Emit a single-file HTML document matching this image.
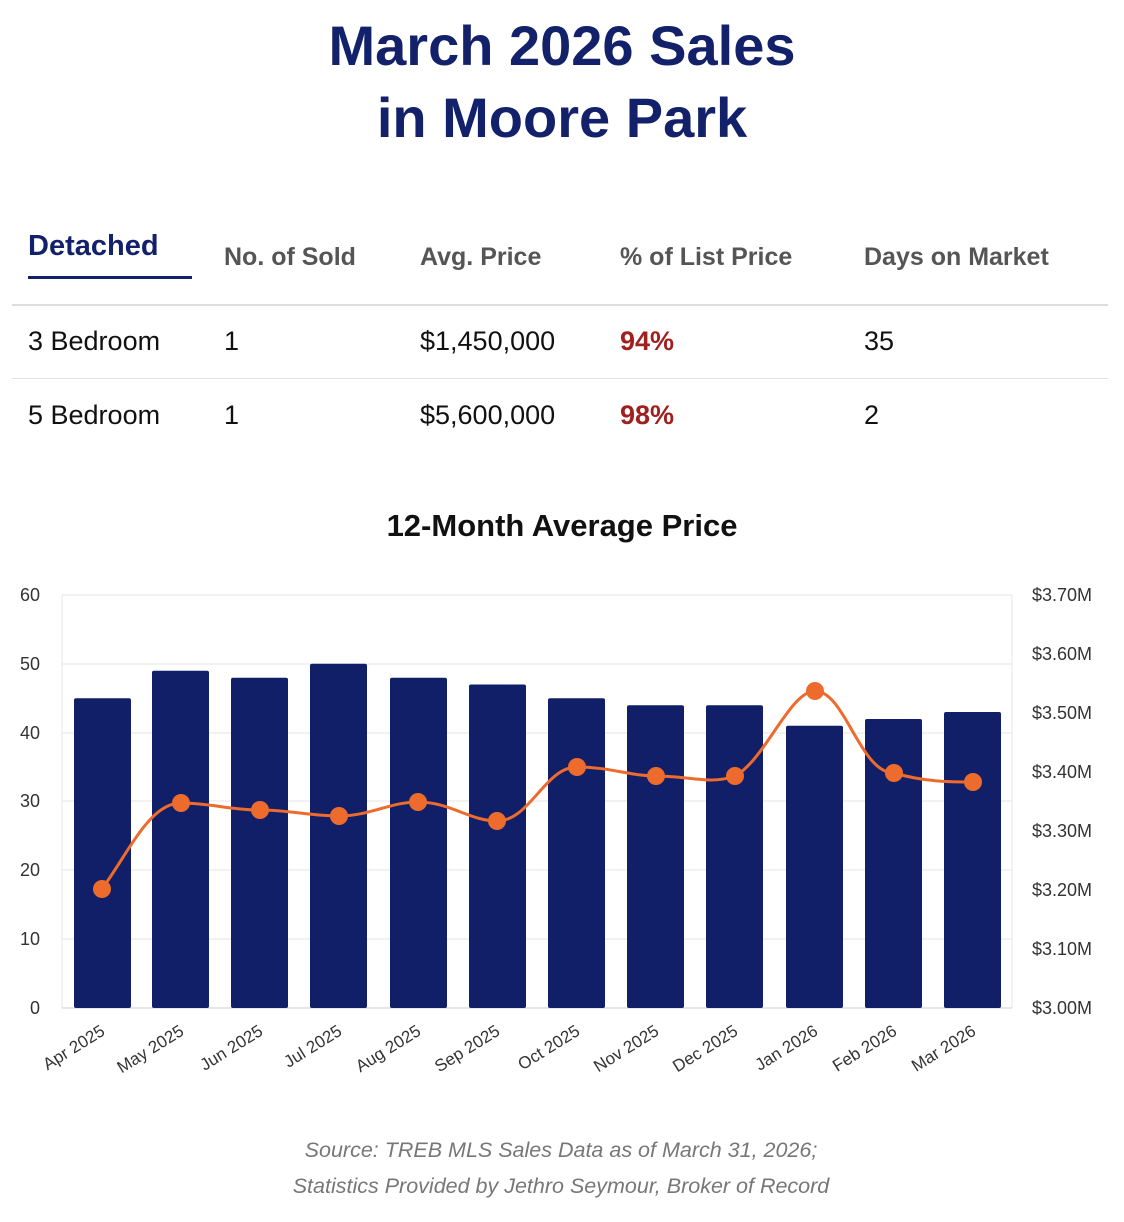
<!DOCTYPE html>
<html><head><meta charset="utf-8"><style>
body{margin:0;width:1124px;height:1222px;background:#fff;font-family:"Liberation Sans",Arial,sans-serif;position:relative;overflow:hidden}
.t{position:absolute;white-space:nowrap}
h1{position:absolute;top:10px;left:0;width:1124px;margin:0;text-align:center;font-size:56px;line-height:72px;color:#13216a;font-weight:bold}
.hd{font-size:25px;font-weight:bold;color:#555;top:243px}
.c{font-size:27px;color:#111}
.r{color:#a0201f;font-weight:bold}
</style></head><body>
<h1>March 2026 Sales<br>in Moore Park</h1>
<div class="t" style="left:28px;top:230px;font-size:29px;font-weight:bold;color:#13216a">Detached</div>
<div style="position:absolute;left:28px;top:276px;width:164px;height:3px;background:#13216a"></div>
<div class="t hd" style="left:224px">No. of Sold</div>
<div class="t hd" style="left:420px">Avg. Price</div>
<div class="t hd" style="left:620px">% of List Price</div>
<div class="t hd" style="left:864px">Days on Market</div>
<div style="position:absolute;left:12px;top:304px;width:1096px;height:2px;background:#ddd"></div>
<div style="position:absolute;left:12px;top:378px;width:1096px;height:1px;background:#e3e3e3"></div>
<div class="t c" style="left:28px;top:326px">3 Bedroom</div><div class="t c" style="left:224px;top:326px">1</div><div class="t c" style="left:420px;top:326px">$1,450,000</div><div class="t c r" style="left:620px;top:326px">94%</div><div class="t c" style="left:864px;top:326px">35</div>
<div class="t c" style="left:28px;top:400px">5 Bedroom</div><div class="t c" style="left:224px;top:400px">1</div><div class="t c" style="left:420px;top:400px">$5,600,000</div><div class="t c r" style="left:620px;top:400px">98%</div><div class="t c" style="left:864px;top:400px">2</div>
<div class="t" style="left:0;width:1124px;text-align:center;top:508px;font-size:31px;font-weight:bold;color:#111">12-Month Average Price</div>
<svg style="position:absolute;left:0;top:0" width="1124" height="1222" font-family="Liberation Sans,Arial,sans-serif">
<g stroke="#e6e6e6" stroke-width="1">
<line x1="62" x2="1012" y1="595" y2="595"/><line x1="62" x2="1012" y1="664" y2="664"/><line x1="62" x2="1012" y1="733" y2="733"/><line x1="62" x2="1012" y1="801" y2="801"/><line x1="62" x2="1012" y1="870" y2="870"/><line x1="62" x2="1012" y1="939" y2="939"/>
<line x1="62" x2="62" y1="595" y2="1008"/><line x1="1012" x2="1012" y1="595" y2="1008"/>
</g>
<line x1="62" x2="1012" y1="1008" y2="1008" stroke="#ccc"/>
<g font-size="18" fill="#333" text-anchor="end">
<text x="40" y="601">60</text><text x="40" y="670">50</text><text x="40" y="739">40</text><text x="40" y="807">30</text><text x="40" y="876">20</text><text x="40" y="945">10</text><text x="40" y="1014">0</text>
</g>
<g font-size="18" fill="#333">
<text x="1032" y="601">$3.70M</text><text x="1032" y="660">$3.60M</text><text x="1032" y="719">$3.50M</text><text x="1032" y="778">$3.40M</text><text x="1032" y="837">$3.30M</text><text x="1032" y="896">$3.20M</text><text x="1032" y="955">$3.10M</text><text x="1032" y="1014">$3.00M</text>
</g>
<g fill="#111f68">
<rect x="74" y="698.3" width="57" height="309.7" rx="2"/>
<rect x="152" y="670.8" width="57" height="337.2" rx="2"/>
<rect x="231" y="677.7" width="57" height="330.3" rx="2"/>
<rect x="310" y="663.8" width="57" height="344.2" rx="2"/>
<rect x="390" y="677.7" width="57" height="330.3" rx="2"/>
<rect x="469" y="684.5" width="57" height="323.5" rx="2"/>
<rect x="548" y="698.3" width="57" height="309.7" rx="2"/>
<rect x="627" y="705.2" width="57" height="302.8" rx="2"/>
<rect x="706" y="705.2" width="57" height="302.8" rx="2"/>
<rect x="786" y="725.8" width="57" height="282.2" rx="2"/>
<rect x="865" y="719" width="57" height="289" rx="2"/>
<rect x="944" y="712" width="57" height="296" rx="2"/>
</g>
<path d="M102,889 C130,850 150,803 181,803 C210,803 230,810 260,810 C290,810 310,816 339,816 C370,816 390,802 418,802 C450,802 470,821 497,821 C530,821 545,767 577,767 C610,767 630,776 656,776 C690,776 710,785 735,776 C765,760 790,691 815,691 C845,691 860,773 894,773 C925,782 950,782 973,782" fill="none" stroke="#ec6b2d" stroke-width="3"/>
<g fill="#ec6b2d">
<circle cx="102" cy="889" r="9"/><circle cx="181" cy="803" r="9"/><circle cx="260" cy="810" r="9"/><circle cx="339" cy="816" r="9"/><circle cx="418" cy="802" r="9"/><circle cx="497" cy="821" r="9"/><circle cx="577" cy="767" r="9"/><circle cx="656" cy="776" r="9"/><circle cx="735" cy="776" r="9"/><circle cx="815" cy="691" r="9"/><circle cx="894" cy="773" r="9"/><circle cx="973" cy="782" r="9"/>
</g>
<g font-size="17" fill="#333" text-anchor="end">
<text transform="translate(106,1034) rotate(-32)">Apr 2025</text>
<text transform="translate(185,1034) rotate(-32)">May 2025</text>
<text transform="translate(264,1034) rotate(-32)">Jun 2025</text>
<text transform="translate(343,1034) rotate(-32)">Jul 2025</text>
<text transform="translate(422,1034) rotate(-32)">Aug 2025</text>
<text transform="translate(501,1034) rotate(-32)">Sep 2025</text>
<text transform="translate(581,1034) rotate(-32)">Oct 2025</text>
<text transform="translate(660,1034) rotate(-32)">Nov 2025</text>
<text transform="translate(739,1034) rotate(-32)">Dec 2025</text>
<text transform="translate(819,1034) rotate(-32)">Jan 2026</text>
<text transform="translate(898,1034) rotate(-32)">Feb 2026</text>
<text transform="translate(977,1034) rotate(-32)">Mar 2026</text>
</g>
<g font-size="21.5" fill="#777" font-style="italic" text-anchor="middle">
<text x="561" y="1157">Source: TREB MLS Sales Data as of March 31, 2026;</text>
<text x="561" y="1193">Statistics Provided by Jethro Seymour, Broker of Record</text>
</g>
</svg>
</body></html>
